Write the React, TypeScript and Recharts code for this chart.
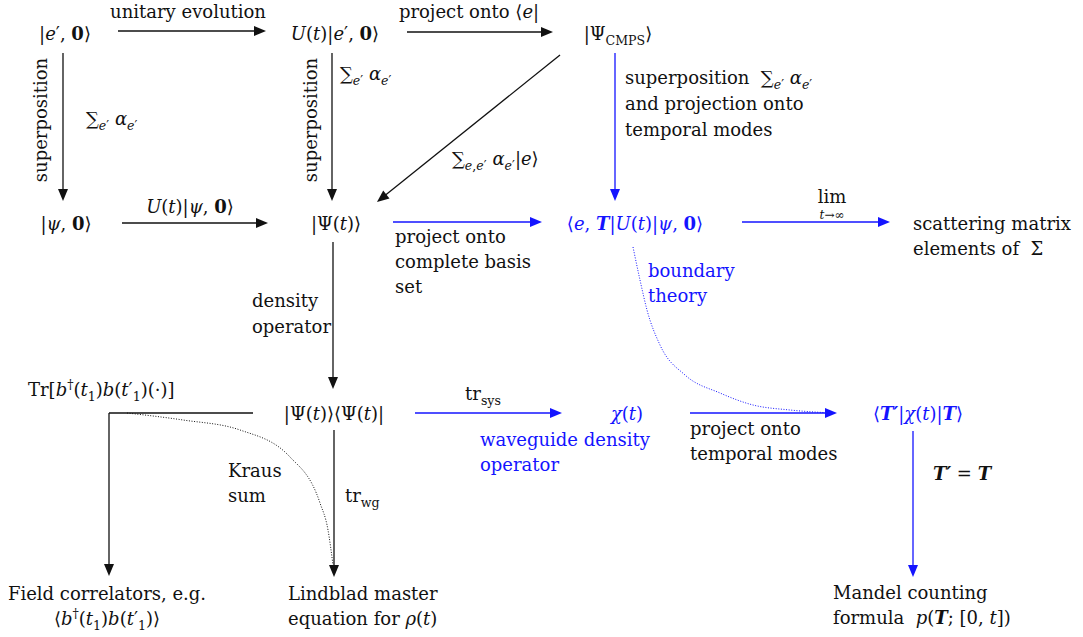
import React from "react"
import { ScatterChart, Scatter, XAxis, YAxis, ReferenceLine } from "recharts"

const W = 1083
const H = 637
const BLUE = "#1414ff"
const INK = "#111111"
const FONT = "'DejaVu Serif', serif"

// Text nodes. Markup: {i:..} italic, {b:..} bold, {bi:..} bold italic,
// {_:..}/{_i:..} subscript, {^:..} superscript
const nodes = [
  { x: 65, y: 40, s: "|{i:e}′, {b:0}⟩" },
  { x: 188, y: 18, s: "unitary evolution" },
  { x: 335, y: 40, s: "{i:U}({i:t})|{i:e}′, {b:0}⟩" },
  { x: 469, y: 18, s: "project onto ⟨{i:e}|" },
  { x: 618, y: 40, s: "|Ψ{_:CMPS}⟩" },
  { x: 47, y: 120, s: "superposition", rot: true },
  { x: 86, y: 125, s: "∑{_i:e}{_:′} {i:α}{_i:e}{_:′}", a: "start" },
  { x: 317, y: 120, s: "superposition", rot: true },
  { x: 340, y: 80, s: "∑{_i:e}{_:′} {i:α}{_i:e}{_:′}", a: "start" },
  { x: 452, y: 165, s: "∑{_i:e}{_:,}{_i:e}{_:′} {i:α}{_i:e}{_:′}|{i:e}⟩", a: "start" },
  { x: 625, y: 84, s: "superposition  ∑{_i:e}{_:′} {i:α}{_i:e}{_:′}", a: "start" },
  { x: 625, y: 110, s: "and projection onto", a: "start" },
  { x: 625, y: 136, s: "temporal modes", a: "start" },
  { x: 66, y: 230, s: "|{i:ψ}, {b:0}⟩" },
  { x: 190, y: 213, s: "{i:U}({i:t})|{i:ψ}, {b:0}⟩" },
  { x: 336, y: 230, s: "|Ψ({i:t})⟩" },
  { x: 395, y: 243, s: "project onto", a: "start" },
  { x: 395, y: 268, s: "complete basis", a: "start" },
  { x: 395, y: 293, s: "set", a: "start" },
  { x: 635, y: 230, s: "⟨{i:e}, {bi:T}|{i:U}({i:t})|{i:ψ}, {b:0}⟩", blue: true },
  { x: 832, y: 203, s: "lim" },
  { x: 832, y: 219, s: "{i:t}→∞", small: true },
  { x: 913, y: 230, s: "scattering matrix", a: "start" },
  { x: 913, y: 255, s: "elements of  Σ", a: "start" },
  { x: 648, y: 277, s: "boundary", a: "start", blue: true },
  { x: 648, y: 302, s: "theory", a: "start", blue: true },
  { x: 252, y: 307, s: "density", a: "start" },
  { x: 252, y: 333, s: "operator", a: "start" },
  { x: 28, y: 396, s: "Tr[{i:b}{^:†}({i:t}{_:1}){i:b}({i:t}′{_:1})(·)]", a: "start" },
  { x: 334, y: 420, s: "|Ψ({i:t})⟩⟨Ψ({i:t})|" },
  { x: 228, y: 477, s: "Kraus", a: "start" },
  { x: 228, y: 502, s: "sum", a: "start" },
  { x: 345, y: 502, s: "tr{_:wg}", a: "start" },
  { x: 107, y: 600, s: "Field correlators, e.g." },
  { x: 107, y: 625, s: "⟨{i:b}{^:†}({i:t}{_:1}){i:b}({i:t}′{_:1})⟩" },
  { x: 288, y: 600, s: "Lindblad master", a: "start" },
  { x: 288, y: 625, s: "equation for {i:ρ}({i:t})", a: "start" },
  { x: 483, y: 400, s: "tr{_:sys}" },
  { x: 627, y: 420, s: "{i:χ}({i:t})", blue: true },
  { x: 480, y: 446, s: "waveguide density", a: "start", blue: true },
  { x: 480, y: 471, s: "operator", a: "start", blue: true },
  { x: 690, y: 435, s: "project onto", a: "start" },
  { x: 690, y: 460, s: "temporal modes", a: "start" },
  { x: 918, y: 420, s: "⟨{bi:T′}|{i:χ}({i:t})|{bi:T}⟩", blue: true },
  { x: 933, y: 480, s: "{bi:T′} = {bi:T}", a: "start" },
  { x: 833, y: 599, s: "Mandel counting", a: "start" },
  { x: 833, y: 624, s: "formula  {i:p}({bi:T}; [0, {i:t}])", a: "start" },
]

// Arrows (x1,y1) -> (x2,y2)
const edges = [
  { x1: 118, y1: 31, x2: 266, y2: 31 },
  { x1: 407, y1: 32, x2: 553, y2: 32 },
  { x1: 63, y1: 53, x2: 63, y2: 201 },
  { x1: 332, y1: 53, x2: 332, y2: 201 },
  { x1: 560, y1: 55, x2: 377, y2: 202 },
  { x1: 615, y1: 53, x2: 615, y2: 201, blue: true },
  { x1: 122, y1: 223, x2: 268, y2: 223 },
  { x1: 393, y1: 222, x2: 542, y2: 222, blue: true },
  { x1: 742, y1: 222, x2: 890, y2: 222, blue: true },
  { x1: 333, y1: 242, x2: 333, y2: 389 },
  { x1: 415, y1: 413, x2: 562, y2: 413, blue: true },
  { x1: 690, y1: 413, x2: 837, y2: 413, blue: true },
  { x1: 913, y1: 431, x2: 913, y2: 577, blue: true },
  { x1: 334, y1: 430, x2: 334, y2: 577 },
  { x1: 109, y1: 413, x2: 109, y2: 576 },
  { x1: 109, y1: 413, x2: 253, y2: 413, noHead: true },
]

// dotted curves
const boundaryCurve = [
  { x: 633, y: 247 }, { x: 640, y: 280 }, { x: 647, y: 310 }, { x: 660, y: 345 },
  { x: 685, y: 375 }, { x: 720, y: 393 }, { x: 753, y: 405 }, { x: 790, y: 410 },
  { x: 832, y: 413 },
]
const krausCurve = [
  { x: 127, y: 413 }, { x: 183, y: 420 }, { x: 240, y: 430 }, { x: 290, y: 457 },
  { x: 320, y: 503 }, { x: 328, y: 530 }, { x: 333, y: 565 },
]

type Seg = { t: string; k: string }

function parse(s: string): Seg[] {
  const out: Seg[] = []
  const re = /\{([a-z_^]+):([^}]*)\}|([^{]+)/g
  let m: RegExpExecArray | null
  while ((m = re.exec(s))) {
    if (m[3] !== undefined) out.push({ t: m[3], k: "" })
    else out.push({ t: m[2], k: m[1] })
  }
  return out
}

function RichText({ cx, cy, payload }: any) {
  if (!payload) return <g />
  const size = payload.small ? 12 : 18
  const fill = payload.blue ? BLUE : INK
  let shift = 0
  const segs = parse(payload.s)
  return (
    <text
      x={cx}
      y={cy}
      fill={fill}
      textAnchor={payload.a || "middle"}
      transform={payload.rot ? `rotate(-90 ${cx} ${cy})` : undefined}
      style={{ whiteSpace: "pre", fontFamily: FONT, fontSize: size }}
    >
      {segs.map((g, i) => {
        const sub = g.k.includes("_")
        const sup = g.k.includes("^")
        const target = sub ? size * 0.28 : sup ? -size * 0.38 : 0
        const dy = target - shift
        shift = target
        return (
          <tspan
            key={i}
            dy={dy !== 0 ? dy : undefined}
            style={{
              fontStyle: g.k.includes("i") ? "italic" : undefined,
              fontWeight: g.k.includes("b") ? "bold" : undefined,
              fontSize: sub || sup ? size * 0.7 : undefined,
            }}
          >
            {g.t}
          </tspan>
        )
      })}
    </text>
  )
}

function arrowShape(color: string, head: boolean) {
  return (p: any) => {
    const { x1, y1, x2, y2 } = p
    const dx = x2 - x1
    const dy = y2 - y1
    const len = Math.hypot(dx, dy) || 1
    const ux = dx / len
    const uy = dy / len
    const L = 12
    const hw = 5
    const bx = x2 - ux * L
    const by = y2 - uy * L
    return (
      <g>
        <line
          x1={x1}
          y1={y1}
          x2={head ? bx + ux : x2}
          y2={head ? by + uy : y2}
          stroke={color}
          strokeWidth={1.3}
        />
        {head && (
          <polygon
            points={`${x2},${y2} ${bx - uy * hw},${by + ux * hw} ${bx + uy * hw},${by - ux * hw}`}
            fill={color}
          />
        )}
      </g>
    )
  }
}

export default function App() {
  return (
    <div style={{ position: "absolute", left: 0, top: 0, background: "#fff", fontFamily: FONT }}>
      <ScatterChart width={W} height={H} margin={{ top: 0, right: 0, bottom: 0, left: 0 }}>
        <XAxis type="number" dataKey="x" domain={[0, W]} allowDataOverflow hide />
        <YAxis type="number" dataKey="y" domain={[0, H]} allowDataOverflow reversed hide />
        {edges.map((e, i) => (
          <ReferenceLine
            key={i}
            segment={[{ x: e.x1, y: e.y1 }, { x: e.x2, y: e.y2 }]}
            ifOverflow="visible"
            shape={arrowShape(e.blue ? BLUE : INK, !e.noHead)}
          />
        ))}
        <Scatter
          data={boundaryCurve}
          line={{ stroke: BLUE, strokeWidth: 1, strokeDasharray: "1 1.6" }}
          lineJointType="monotoneX"
          shape={() => <g />}
          isAnimationActive={false}
        />
        <Scatter
          data={krausCurve}
          line={{ stroke: INK, strokeWidth: 1, strokeDasharray: "1 1.6" }}
          lineJointType="monotoneX"
          shape={() => <g />}
          isAnimationActive={false}
        />
        <Scatter data={nodes} shape={(p: any) => <RichText {...p} />} isAnimationActive={false} />
      </ScatterChart>
    </div>
  )
}
